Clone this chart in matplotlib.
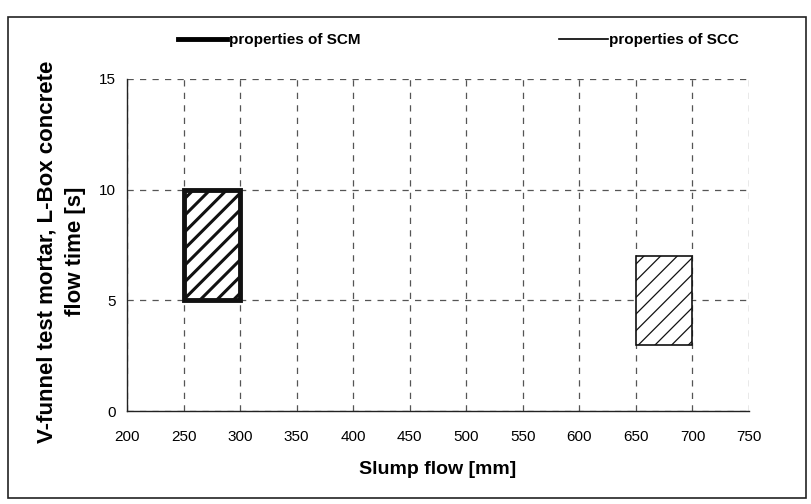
import matplotlib
matplotlib.use('Agg')
import matplotlib.pyplot as plt
from matplotlib.patches import Rectangle
from matplotlib.lines import Line2D

plt.rcParams['font.family'] = ['Liberation Sans Narrow', 'Liberation Sans', 'DejaVu Sans']

# 砂浆 / 混凝土 性能范围
materials = ['properties of SCM', 'properties of SCC']
slump_lo = [250, 650]
slump_hi = [300, 700]
time_lo = [5, 3]
time_hi = [10, 7]
edge_width = [3.5, 1.2]
hatch_width = [2.2, 0.9]

xticks = list(range(200, 751, 50))
yticks = [0, 5, 10, 15]

fig = plt.figure(figsize=(8.12, 5.04), dpi=100)
ax = fig.add_axes([0.1564, 0.1845, 0.766, 0.659])

ax.set_xlim(200, 750)
ax.set_ylim(0, 15)
ax.set_xticks(xticks)
ax.set_yticks(yticks)
ax.tick_params(length=0, labelsize=11, pad=8)
ax.tick_params(axis='x', pad=14)

# 网格
ax.grid(True, linestyle=(0, (5, 5)), color='#555555', linewidth=0.9)
ax.set_axisbelow(True)
for s in ['top', 'right']:
    ax.spines[s].set_visible(False)
for s in ['left', 'bottom']:
    ax.spines[s].set_linewidth(1.0)
    ax.spines[s].set_color('#222222')

for i in range(len(materials)):
    with plt.rc_context({'hatch.linewidth': hatch_width[i]}):
        r = Rectangle((slump_lo[i], time_lo[i]), slump_hi[i] - slump_lo[i],
                      time_hi[i] - time_lo[i], facecolor='white',
                      edgecolor='#111111', linewidth=edge_width[i], hatch='//',
                      zorder=3)
    ax.add_patch(r)

ax.set_xlabel('Slump flow [mm]', fontsize=14, fontweight='bold',
              family=['Liberation Sans', 'DejaVu Sans'], labelpad=12)
ax.set_ylabel('V-funnel test mortar, L-Box concrete\nflow time [s]', fontsize=16,
              fontweight='bold', family=['Liberation Sans', 'DejaVu Sans'],
              labelpad=9, linespacing=1.5)
ax.yaxis.label.set_y(0.48)

handles = [Line2D([], [], color='black', linewidth=edge_width[i]) for i in range(len(materials))]
fig.legend(handles, materials, loc='center', bbox_to_anchor=(0.565, 0.92), ncol=2,
           frameon=False, handlelength=3.2, handletextpad=0.1, columnspacing=13,
           prop={'size': 11, 'weight': 'bold'})

# 外框
fig.add_artist(Rectangle((0.01, 0.012), 0.9826, 0.954, transform=fig.transFigure,
                         fill=False, edgecolor='#222222', linewidth=1.2))

fig.savefig('out.png', dpi=100)
